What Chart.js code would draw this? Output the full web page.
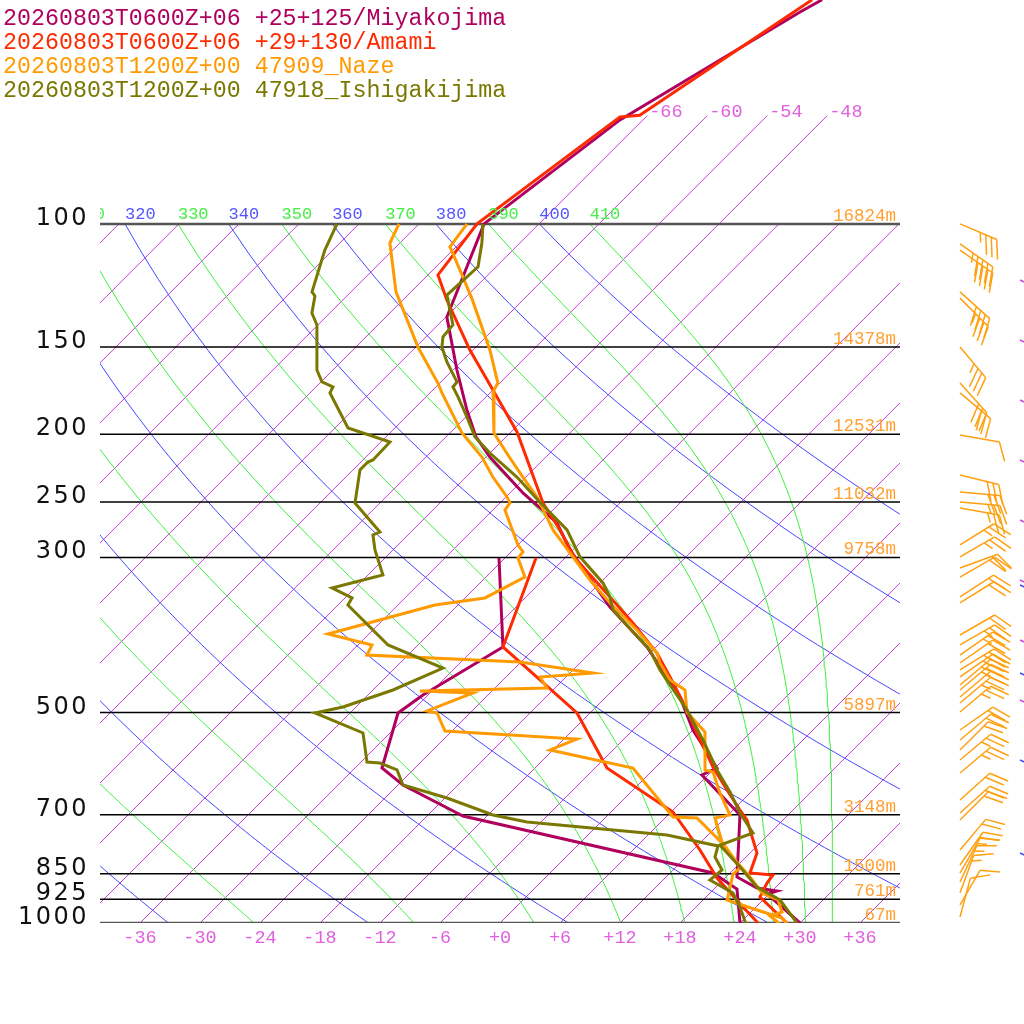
<!DOCTYPE html>
<html>
<head>
<meta charset="utf-8">
<script src="https://cdn.jsdelivr.net/npm/chart.js@4.4.1/dist/chart.umd.min.js"></script>
<style>
  html, body { margin: 0; padding: 0; background: #fff; }
  #wrap { width: 1024px; height: 1024px; }
</style>
</head>
<body>
<div id="wrap"><canvas id="skewt" width="1024" height="1024"></canvas></div>
<script>
// --- soundings: pressure (hPa) and temperature / dew point (°C) ---
const miyaTempP = [47.8, 49.8, 71.0, 100, 135.9, 161.8, 184.6, 201.7, 215.5, 242.6, 267.8, 292.7, 353.2, 402.9, 475.0, 529.6, 600.2, 614.2, 700.7, 859.4, 891.1, 900.0, 908.9, 1000];
const miyaTempT = [-60.1, -61.1, -68.3, -71.5, -65.9, -59.6, -54.6, -51.0, -47.6, -40.7, -34.3, -30.3, -20.6, -12.9, -4.6, 0.0, 6.2, 5.4, 13.2, 19.1, 22.2, 24.5, 23.8, 30.0];
const miyaDewP = [300.5, 402.9, 471.9, 500.7, 600.2, 634.8, 703.0, 848.2, 894.1, 1000];
const miyaDewT = [-36.6, -27.3, -30.5, -31.2, -27.3, -23.5, -14.4, 16.3, 20.3, 24.0];

const amamiTempP = [47.8, 69.9, 70.3, 100, 118.3, 128.5, 151.5, 172.8, 198.4, 250.7, 274.0, 300.5, 341.7, 372.3, 411.0, 444.7, 495.8, 534.8, 598.2, 645.3, 689.2, 712.3, 794.1, 848.2, 853.8, 876.5, 917.9, 1000];
const amamiTempT = [-61.1, -66.8, -68.6, -72.2, -71.0, -67.6, -60.3, -54.0, -47.4, -37.7, -33.3, -29.0, -21.6, -16.7, -11.3, -7.6, -2.6, 0.7, 5.7, 9.4, 12.7, 14.4, 18.7, 20.0, 22.5, 22.7, 23.4, 28.7];
const amamiDewP = [300.5, 402.9, 449.1, 500.7, 600.2, 693.8, 786.3, 862.2, 948.7, 1000];
const amamiDewT = [-32.9, -27.3, -20.3, -13.3, -4.8, 6.2, 12.7, 17.2, 22.7, 25.8];

const nazeTempP = [100, 107.9, 110.1, 127.7, 151.5, 168.9, 173.9, 199.1, 216.2, 230.2, 245.8, 274.0, 323.1, 348.5, 381.0, 411.0, 424.7, 449.1, 464.2, 499.1, 533.1, 604.1, 608.1, 651.7, 700.7, 707.7, 765.8, 812.6, 859.4, 905.9, 927.0, 964.4, 977.2, 1016.6];
const nazeTempT = [-73.2, -72.6, -71.7, -65.3, -58.3, -54.2, -53.8, -49.6, -45.5, -42.3, -38.9, -34.0, -25.3, -21.0, -15.6, -11.3, -10.0, -7.3, -4.8, -2.4, 1.4, 5.2, 6.2, 9.0, 12.2, 11.0, 14.1, 17.2, 20.4, 23.2, 25.5, 27.1, 26.3, 29.0];
const nazeDewP = [100, 106.5, 125.1, 150.0, 168.9, 174.5, 199.1, 215.5, 230.2, 245.8, 250.7, 256.6, 287.9, 294.6, 300.5, 320.0, 342.8, 350.9, 386.0, 400.2, 413.7, 423.3, 434.6, 439.0, 444.7, 461.2, 465.7, 468.8, 497.4, 500.7, 531.3, 545.5, 565.6, 600.2, 705.3, 707.7, 768.4, 834.3, 851.0, 891.1, 927.0, 958.1, 983.7, 1006.6];
const nazeDewT = [-80.0, -79.0, -73.5, -65.8, -60.2, -58.8, -52.8, -48.4, -45.3, -41.9, -41.0, -40.8, -36.0, -34.8, -34.7, -32.1, -34.0, -38.3, -46.1, -40.6, -40.1, -24.1, -18.0, -15.7, -20.6, -18.8, -31.2, -25.7, -28.5, -27.3, -24.7, -10.7, -12.3, -2.2, 6.7, 9.2, 14.2, 18.5, 18.4, 19.5, 20.4, 24.4, 27.7, 29.0];

const ishiTempP = [100, 106.5, 115.2, 126.4, 132.8, 139.5, 145.1, 150.0, 157.6, 168.3, 171.1, 176.8, 188.9, 201.7, 212.7, 230.2, 248.3, 274.0, 299.5, 326.3, 341.7, 356.7, 406.9, 434.6, 495.8, 547.3, 604.1, 649.5, 696.1, 743.5, 773.5, 831.5, 888.2, 927.0, 1000];
const ishiTempT = [-71.6, -69.8, -67.8, -68.1, -66.3, -64.5, -64.3, -63.4, -61.4, -58.4, -58.3, -56.8, -53.9, -51.1, -48.0, -42.9, -38.5, -32.6, -28.6, -23.7, -21.6, -20.0, -12.3, -9.3, -2.6, 2.0, 6.4, 9.9, 13.0, 16.3, 14.2, 18.4, 22.1, 25.7, 29.7];
const ishiDewP = [100, 109.0, 125.1, 126.8, 134.1, 139.5, 161.8, 168.3, 171.1, 174.5, 195.8, 205.1, 217.6, 219.1, 224.9, 250.7, 275.9, 278.6, 292.7, 317.9, 331.7, 342.8, 350.9, 400.2, 431.8, 464.2, 490.9, 500.7, 534.8, 588.4, 590.4, 604.1, 634.8, 662.5, 700.7, 717.0, 748.3, 776.0, 804.6, 839.8, 868.0, 905.9, 948.7, 1013.3];
const ishiDewT = [-86.2, -84.8, -81.9, -81.2, -79.8, -78.1, -73.6, -71.9, -70.3, -70.0, -64.7, -59.1, -59.0, -59.3, -59.3, -56.5, -51.1, -51.5, -49.8, -46.5, -50.3, -47.3, -47.0, -39.0, -31.2, -34.0, -37.3, -39.5, -32.7, -29.4, -28.0, -25.6, -23.5, -17.8, -11.5, -7.4, 7.9, 14.1, 14.9, 16.9, 16.7, 20.3, 22.4, 25.1];

// Naze winds: pressure (hPa), direction (deg), speed (kt)
const barbP = [100, 106.8, 109.0, 125.1, 127.7, 150.0, 168.9, 174.5, 200.4, 228.6, 241.8, 250.0, 254.9, 287.9, 299.5, 310.6, 320.0, 341.7, 348.5, 387.3, 400.2, 413.7, 424.7, 434.6, 444.7, 456.6, 464.2, 475.0, 484.5, 499.1, 529.6, 547.3, 565.6, 584.6, 610.1, 666.9, 696.1, 712.3, 786.3, 826.1, 848.2, 873.7, 905.9, 942.4, 980.4];
const barbDir = [113, 125, 125, 132, 135, 140, 138, 130, 100, 104, 95, 95, 100, 58, 60, 70, 60, 57, 58, 60, 60, 55, 55, 58, 55, 50, 50, 50, 50, 50, 55, 50, 45, 50, 50, 48, 48, 45, 40, 35, 30, 25, 20, 30, 15];
const barbSpd = [35, 45, 40, 40, 35, 35, 30, 30, 10, 30, 30, 25, 25, 25, 25, 20, 20, 20, 20, 20, 25, 25, 20, 25, 25, 25, 25, 20, 25, 25, 20, 20, 20, 25, 25, 20, 20, 20, 20, 20, 15, 15, 15, 10, 10];
// barbs of the next columns, cut by the right edge
const edgeBarbPurpleP = [120.3, 146.6, 178.6, 217.6, 265.2, 323.1, 393.7, 479.8];
const edgeBarbBlueP = [328.5, 439.0, 584.6, 794.1];

// axes / reference lines
const pressureLevels = [100, 150, 200, 250, 300, 500, 700, 850, 925, 1000];
const heightLabels = ['16824m', '14378m', '12531m', '11032m', '9758m', '5897m', '3148m', '1500m', '761m', '67m'];
const tempTicks = [-36, -30, -24, -18, -12, -6, 0, 6, 12, 18, 24, 30, 36];
const topIsotherms = [-66, -60, -54, -48];
const dryThetas = [240, 260, 280, 300, 320, 340, 360, 380, 400];
const moistThetas = [250, 270, 290, 310, 330, 350, 370, 390, 410];

const legendLabels = [
    '20260803T0600Z+06 +25+125/Miyakojima',
    '20260803T0600Z+06 +29+130/Amami',
    '20260803T1200Z+00 47909_Naze',
    '20260803T1200Z+00 47918_Ishigakijima'
];
const COL_MIYA = '#b0005e';
const COL_AMAMI = '#ff2a00';
const COL_NAZE = '#ff9a00';
const COL_ISHI = '#7a7800';
const legendColors = [COL_MIYA, COL_AMAMI, COL_NAZE, COL_ISHI];

const SKEW = 30.357;   // °C of shift per ln(1000/p): 45 degree isotherms
const P_TOP = 47.835;  // pressure at the top edge of the plot

function skewX(t, p) { return t + SKEW * Math.log(1000 / p); }
function profile(P, T) { return P.map((p, i) => ({ x: skewX(T[i], p), y: p })); }

// thermodynamics for the background lines
function dryT(theta, p) { return theta * Math.pow(p / 1000, 0.2857) - 273.15; }
function thetaE(tc, p) {
    const tk = tc + 273.15;
    const es = 6.112 * Math.exp(17.67 * tc / (tc + 243.5));
    if (es > 0.2 * p) return Infinity;
    const r = 622 * es / (p - es);
    return tk * Math.pow(1000 / p, 0.2854 * (1 - 0.00028 * r)) *
        Math.exp((3.376 / tk - 0.00254) * r * (1 + 0.00081 * r));
}
function moistT(te, p) {
    let lo = -120, hi = 50;
    for (let k = 0; k < 50; k++) {
        const mid = (lo + hi) / 2;
        if (thetaE(mid, p) > te) hi = mid; else lo = mid;
    }
    return (lo + hi) / 2;
}

const gridP = [];
for (let p = 1000; p >= 100; p -= 10) gridP.push(p);

function lineSet(data, color, width, order) {
    return {
        data: data, showLine: true, borderColor: color, backgroundColor: color,
        borderWidth: width, pointRadius: 0, pointHoverRadius: 0, fill: false, order: order
    };
}

const datasets = [];
// profiles, olive on top
datasets.push(lineSet(profile(ishiTempP, ishiTempT), COL_ISHI, 3, 1));
datasets.push(lineSet(profile(ishiDewP, ishiDewT), COL_ISHI, 3, 1));
datasets.push(lineSet(profile(nazeTempP, nazeTempT), COL_NAZE, 3, 2));
datasets.push(lineSet(profile(nazeDewP, nazeDewT), COL_NAZE, 3, 2));
datasets.push(lineSet(profile(amamiTempP, amamiTempT), COL_AMAMI, 3, 3));
datasets.push(lineSet(profile(amamiDewP, amamiDewT), COL_AMAMI, 3, 3));
datasets.push(lineSet(profile(miyaTempP, miyaTempT), COL_MIYA, 3, 4));
datasets.push(lineSet(profile(miyaDewP, miyaDewT), COL_MIYA, 3, 4));

// isobars
pressureLevels.forEach(p => {
    const edge = (p === 100 || p === 1000);
    datasets.push(lineSet([{ x: -40, y: p }, { x: 40, y: p }], edge ? '#555' : '#000', edge ? 2.5 : 1.5, 5));
});
// moist adiabats (green), dry adiabats (blue)
moistThetas.forEach(te => {
    datasets.push(lineSet(gridP.map(p => ({ x: skewX(moistT(te, p), p), y: p })), '#3cf03c', 1, 6));
});
dryThetas.forEach(th => {
    datasets.push(lineSet(gridP.map(p => ({ x: skewX(dryT(th, p), p), y: p })), '#4646ff', 1, 7));
});
// isotherms (violet)
for (let t = -132; t <= 36; t += 6) {
    const pEnd = topIsotherms.includes(t) ? 70 : 100;
    datasets.push(lineSet([{ x: skewX(t, 1000), y: 1000 }, { x: skewX(t, pEnd), y: pEnd }], '#c83cd8', 1, 8));
}

function drawBarb(ctx, x0, y0, dir, spd, color) {
    const a = (90 - dir) * Math.PI / 180;
    const ux = Math.cos(a), uy = -Math.sin(a);
    const b = a - 65 * Math.PI / 180;
    const fx = Math.cos(b), fy = -Math.sin(b);
    const L = 40, F = 20, step = 6;
    ctx.strokeStyle = color;
    ctx.fillStyle = color;
    ctx.lineWidth = 1.5;
    ctx.beginPath();
    ctx.moveTo(x0, y0);
    ctx.lineTo(x0 + ux * L, y0 + uy * L);
    ctx.stroke();
    let s = Math.round(spd / 5) * 5;
    let d = L;
    while (s >= 50) {
        ctx.beginPath();
        ctx.moveTo(x0 + ux * d, y0 + uy * d);
        ctx.lineTo(x0 + ux * d + fx * F, y0 + uy * d + fy * F);
        ctx.lineTo(x0 + ux * (d - 8), y0 + uy * (d - 8));
        ctx.closePath();
        ctx.fill();
        d -= 10; s -= 50;
    }
    while (s >= 10) {
        ctx.beginPath();
        ctx.moveTo(x0 + ux * d, y0 + uy * d);
        ctx.lineTo(x0 + ux * d + fx * F, y0 + uy * d + fy * F);
        ctx.stroke();
        d -= step; s -= 10;
    }
    if (s >= 5) {
        if (d === L) d -= step;
        ctx.beginPath();
        ctx.moveTo(x0 + ux * d, y0 + uy * d);
        ctx.lineTo(x0 + ux * d + fx * F / 2, y0 + uy * d + fy * F / 2);
        ctx.stroke();
    }
}

function tempLabel(t) { return (t < 0 ? '' : '+') + t; }

const skewtDecor = {
    id: 'skewtDecor',
    afterDraw(chart) {
        const { ctx, chartArea } = chart;
        const xs = chart.scales.x, ys = chart.scales.y;
        ctx.save();

        // legend
        ctx.font = "23.3px 'Liberation Mono', monospace";
        ctx.textAlign = 'left';
        ctx.textBaseline = 'alphabetic';
        legendLabels.forEach((txt, i) => {
            ctx.fillStyle = legendColors[i];
            ctx.fillText(txt, 3, 25 + i * 24);
        });

        // pressure labels
        ctx.font = "24px 'DejaVu Sans', sans-serif";
        ctx.fillStyle = '#111';
        ctx.textAlign = 'right';
        if ('letterSpacing' in ctx) ctx.letterSpacing = '2.5px';
        pressureLevels.forEach(p => {
            ctx.fillText(String(p), 89, ys.getPixelForValue(p) + 1);
        });
        if ('letterSpacing' in ctx) ctx.letterSpacing = '0px';

        // geopotential heights
        ctx.font = "17.5px 'Liberation Mono', monospace";
        ctx.fillStyle = '#ffa030';
        ctx.textAlign = 'right';
        pressureLevels.forEach((p, i) => {
            ctx.fillText(heightLabels[i], 896, ys.getPixelForValue(p) - 3);
        });

        // temperature ticks at the bottom
        ctx.font = "18.5px 'Liberation Mono', monospace";
        ctx.fillStyle = '#e060e0';
        ctx.textAlign = 'center';
        tempTicks.forEach(t => {
            ctx.fillText(tempLabel(t), xs.getPixelForValue(t), 943);
        });

        // isotherm labels above 100 hPa
        ctx.textAlign = 'left';
        topIsotherms.forEach(t => {
            ctx.fillText(String(t), xs.getPixelForValue(skewX(t, 70)) + 2, 117);
        });

        // adiabat labels on the 100 hPa line
        ctx.save();
        ctx.beginPath();
        ctx.rect(chartArea.left, 0, chartArea.right - chartArea.left, chart.height);
        ctx.clip();
        const y100 = ys.getPixelForValue(100) - 5;
        ctx.font = "17px 'Liberation Mono', monospace";
        dryThetas.forEach(th => {
            ctx.fillStyle = '#5555ff';
            ctx.fillText(String(th), xs.getPixelForValue(skewX(dryT(th, 100), 100)), y100);
        });
        moistThetas.forEach(te => {
            ctx.fillStyle = '#44ee44';
            ctx.fillText(String(te), xs.getPixelForValue(skewX(moistT(te, 100), 100)), y100);
        });
        ctx.restore();

        // wind barbs
        barbP.forEach((p, i) => {
            drawBarb(ctx, 960, ys.getPixelForValue(p), barbDir[i], barbSpd[i], '#ffa010');
        });
        edgeBarbPurpleP.forEach(p => drawBarb(ctx, 1020, ys.getPixelForValue(p), 115, 0, '#cc44dd'));
        edgeBarbBlueP.forEach(p => drawBarb(ctx, 1020, ys.getPixelForValue(p), 115, 0, '#4646ff'));

        ctx.restore();
    }
};

const ctx = document.getElementById('skewt').getContext('2d');
new Chart(ctx, {
    type: 'scatter',
    data: { datasets: datasets },
    options: {
        responsive: false,
        animation: false,
        devicePixelRatio: 1,
        layout: { padding: { left: 100, right: 124, top: 0, bottom: 101 } },
        plugins: { legend: { display: false }, tooltip: { enabled: false } },
        elements: { line: { tension: 0 }, point: { radius: 0 } },
        scales: {
            x: { type: 'linear', min: -40, max: 40, bounds: 'data', display: false },
            y: { type: 'logarithmic', min: P_TOP, max: 1000, reverse: true, bounds: 'data', display: false }
        }
    },
    plugins: [skewtDecor]
});
</script>
</body>
</html>
